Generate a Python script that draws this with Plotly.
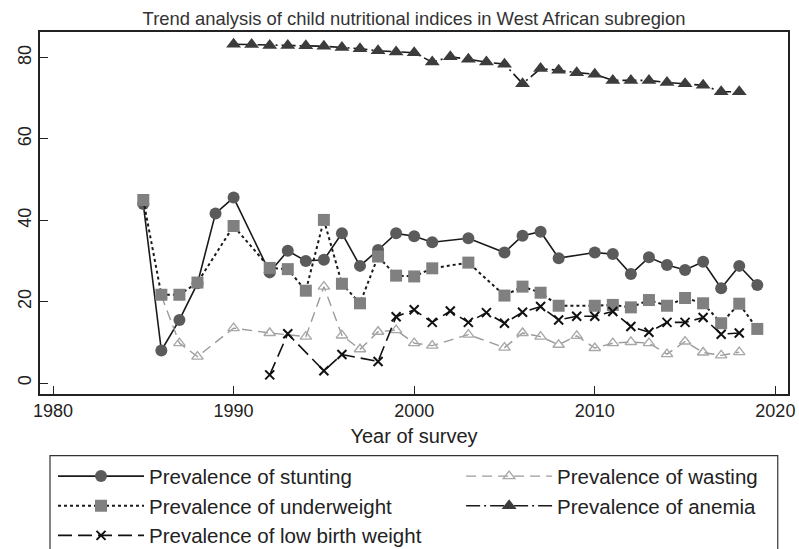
import plotly.graph_objects as go

# ---------------- data ----------------
stunting_years = [1985, 1986, 1987, 1988, 1989, 1990, 1992, 1993, 1994, 1995, 1996, 1997, 1998,
                  1999, 2000, 2001, 2003, 2005, 2006, 2007, 2008, 2010, 2011, 2012, 2013, 2014,
                  2015, 2016, 2017, 2018, 2019]
stunting = [44.0, 8.0, 15.5, 24.5, 41.7, 45.6, 27.2, 32.5, 30.0, 30.3, 36.8, 28.8, 32.7,
            36.8, 36.1, 34.6, 35.6, 32.1, 36.2, 37.2, 30.7, 32.1, 31.7, 26.8, 30.9, 29.0,
            27.8, 29.8, 23.3, 28.8, 24.1]

wasting_years = [1986, 1987, 1988, 1990, 1992, 1994, 1995, 1996, 1997, 1998, 1999, 2000, 2001,
                 2003, 2005, 2006, 2007, 2008, 2009, 2010, 2011, 2012, 2013, 2014, 2015, 2016,
                 2017, 2018]
wasting = [21.5, 9.8, 6.5, 13.5, 12.3, 11.4, 23.7, 11.7, 8.3, 12.6, 13.0, 9.8, 9.2,
           11.9, 8.7, 12.3, 11.4, 9.4, 11.6, 8.6, 9.8, 10.1, 9.8, 7.1, 10.2, 7.5,
           6.8, 7.6]

underweight_years = [1985, 1986, 1987, 1988, 1990, 1992, 1993, 1994, 1995, 1996, 1997, 1998,
                     1999, 2000, 2001, 2003, 2005, 2006, 2007, 2008, 2010, 2011, 2012, 2013,
                     2014, 2015, 2016, 2017, 2018, 2019]
underweight = [45.0, 21.7, 21.7, 24.7, 38.6, 28.3, 28.0, 22.7, 40.1, 24.4, 19.6, 31.1,
               26.4, 26.2, 28.2, 29.6, 21.5, 23.7, 22.2, 19.0, 19.0, 19.2, 18.6, 20.4,
               19.0, 20.9, 19.6, 14.7, 19.5, 13.3]

anemia_years = list(range(1990, 2019))
anemia = [83.3, 83.2, 83.0, 83.0, 82.9, 82.8, 82.5, 82.2, 81.7, 81.4, 81.2, 78.9, 80.2,
          79.6, 78.9, 78.4, 73.6, 77.3, 76.9, 76.3, 75.9, 74.4, 74.4, 74.4, 73.9, 73.6,
          73.2, 71.6, 71.6]

lbw_years = [1992, 1993, 1995, 1996, 1998, 1999, 2000, 2001, 2002, 2003, 2004, 2005, 2006,
             2007, 2008, 2009, 2010, 2011, 2012, 2013, 2014, 2015, 2016, 2017, 2018]
lbw = [2.0, 12.1, 3.0, 7.0, 5.3, 16.3, 18.0, 14.9, 17.7, 14.9, 17.3, 14.7, 17.4,
       18.8, 15.5, 16.4, 16.4, 17.6, 13.9, 12.5, 14.9, 14.9, 16.1, 12.0, 12.3]

x_ticks = [1980, 1990, 2000, 2010, 2020]
y_ticks = [0, 20, 40, 60, 80]

FONT = "Arial, 'Liberation Sans', sans-serif"

fig = go.Figure()

fig.add_trace(go.Scatter(
    x=stunting_years, y=stunting, name="Prevalence of stunting", mode="lines+markers",
    legend="legend",
    line=dict(color="#1a1a1a", width=1.6),
    marker=dict(symbol="circle", size=12, color="#5b5b5b", line=dict(width=0))))

fig.add_trace(go.Scatter(
    x=wasting_years, y=wasting, name="Prevalence of wasting", mode="lines+markers",
    legend="legend2",
    line=dict(color="#9a9a9a", width=1.4, dash="10px,6px"),
    marker=dict(symbol="triangle-up-open", size=10, color="#a8a8a8", line=dict(width=1.4))))

fig.add_trace(go.Scatter(
    x=underweight_years, y=underweight, name="Prevalence of underweight", mode="lines+markers",
    legend="legend",
    line=dict(color="#1a1a1a", width=2, dash="dot"),
    marker=dict(symbol="square", size=12, color="#808080", line=dict(width=0))))

fig.add_trace(go.Scatter(
    x=anemia_years, y=anemia, name="Prevalence of anemia", mode="lines+markers",
    legend="legend2",
    line=dict(color="#1a1a1a", width=1.6, dash="14px,4px,2px,4px"),
    marker=dict(symbol="triangle-up", size=13, color="#3c3c3c", line=dict(width=0))))

fig.add_trace(go.Scatter(
    x=lbw_years, y=lbw, name="Prevalence of low birth weight", mode="lines+markers",
    legend="legend",
    line=dict(color="#111111", width=1.6, dash="14px,6px"),
    marker=dict(symbol="x-thin-open", size=9, color="#111111", line=dict(width=2, color="#111111"))))

legend_common = dict(orientation="v", y=-0.172, xanchor="left", yanchor="top",
                     borderwidth=0, bgcolor="rgba(0,0,0,0)",
                     font=dict(size=20.5, color="#222222", family=FONT),
                     itemwidth=86, traceorder="normal", tracegroupgap=0)

fig.update_layout(
    width=799, height=549,
    margin=dict(l=40, r=11, t=32, b=155, autoexpand=False),
    paper_bgcolor="white", plot_bgcolor="white",
    font=dict(family=FONT, color="#222222"),
    title=dict(text="Trend analysis of child nutritional indices in West African subregion",
               x=0.5, xref="paper", xanchor="center", y=0.967, yanchor="middle",
               font=dict(size=18.4, color="#333333", family=FONT)),
    showlegend=True,
    legend=dict(x=0.0174, **legend_common),
    legend2=dict(x=0.563, **legend_common),
    shapes=[dict(type="rect", xref="paper", yref="paper", x0=0.01337, x1=0.9863,
                 y0=-0.457, y1=-0.1701, line=dict(color="#333333", width=1.2),
                 fillcolor="rgba(0,0,0,0)", layer="below")],
)

fig.update_xaxes(range=[1979.28, 2020.70], tickvals=x_ticks, ticks="inside", ticklen=8,
                 tickcolor="#222", tickwidth=1, showline=True, linecolor="#222", linewidth=1.5,
                 mirror=True, showgrid=False, zeroline=False, ticklabeloverflow="allow",
                 tickfont=dict(size=18, color="#222"),
                 title=dict(text="Year of survey", font=dict(size=20, color="#222"), standoff=9))
fig.update_yaxes(range=[-2.7, 86.3], tickvals=y_ticks, ticks="inside", ticklen=8,
                 tickcolor="#222", tickwidth=1, showline=True, linecolor="#222", linewidth=1.5,
                 mirror=True, showgrid=False, zeroline=False, tickangle=-90,
                 ticklabelstandoff=0,
                 tickfont=dict(size=18, color="#222"))

fig.write_html("out.html", config={"displayModeBar": False},
               post_script="document.body.style.margin='0';")
